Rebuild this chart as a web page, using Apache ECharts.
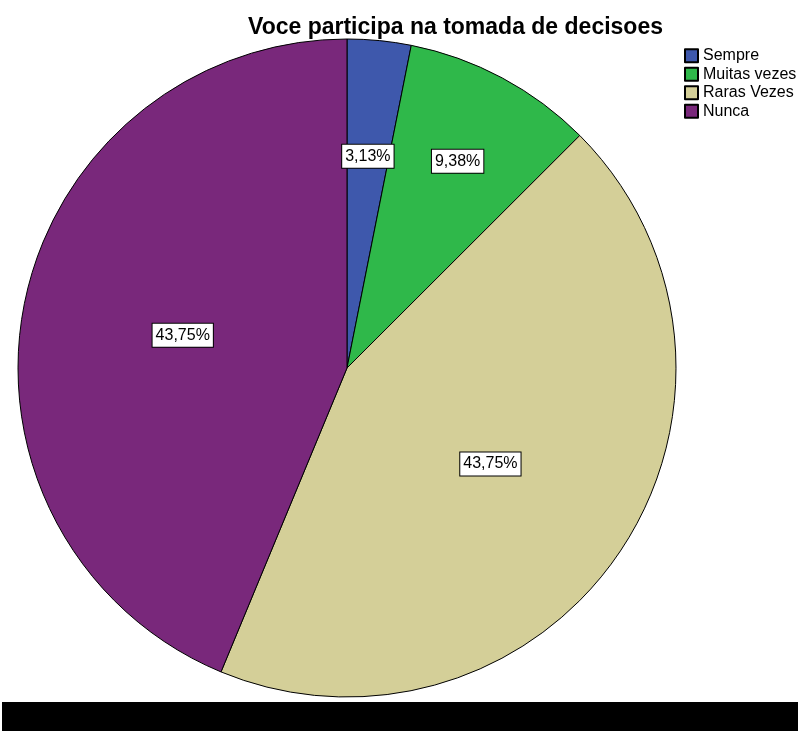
<!DOCTYPE html>
<html>
<head>
<meta charset="utf-8">
<script src="https://cdn.jsdelivr.net/npm/echarts@6/dist/echarts.min.js"></script>
<style>
  html, body { margin: 0; padding: 0; background: #fff; }
  #chart { width: 798px; height: 731px; }
</style>
</head>
<body>
<div id="chart"></div>
<script>
// categorias e percentuais
const categories = ['Sempre', 'Muitas vezes', 'Raras Vezes', 'Nunca']
const percents = [3.13, 9.38, 43.75, 43.75]
const colors = ['#3e58ac', '#2fb84a', '#d4cf98', '#79287b']

const cx = 347
const cy = 368
// SPSS desenha os rótulos das fatias pequenas mais perto da borda
const labelPush = [1.27, 1.4, 1.03, 1.0]

const chart = echarts.init(document.getElementById('chart'))

chart.setOption({
  animation: false,
  title: {
    text: 'Voce participa na tomada de decisoes',
    left: 243,
    top: 11,
    textStyle: {
      fontFamily: 'Liberation Sans',
      fontSize: 23,
      fontWeight: 'bold',
      color: '#000'
    }
  },
  legend: {
    orient: 'vertical',
    left: 679,
    top: 42,
    itemWidth: 13,
    itemHeight: 13,
    itemGap: 1,
    icon: 'rect',
    data: categories,
    textStyle: {
      fontFamily: 'Liberation Sans',
      fontSize: 16,
      lineHeight: 17.5,
      color: '#000'
    }
  },
  graphic: [
    {
      type: 'rect',
      left: 2,
      top: 702,
      shape: { width: 796, height: 29 },
      style: { fill: '#000' }
    }
  ],
  series: [
    {
      type: 'pie',
      center: [cx, cy],
      radius: [0, 329],
      startAngle: 90,
      clockwise: true,
      silent: true,
      itemStyle: {
        borderColor: '#000',
        borderWidth: 1
      },
      label: {
        position: 'inside',
        formatter: p => p.value.toFixed(2).replace('.', ',') + '%',
        fontFamily: 'Liberation Sans',
        fontSize: 16,
        color: '#000',
        backgroundColor: '#fff',
        borderColor: '#000',
        borderWidth: 1,
        padding: [4, 3, 3, 3]
      },
      labelLayout: params => {
        const r = params.labelRect
        const mx = r.x + r.width / 2
        const my = r.y + r.height / 2
        const k = labelPush[params.dataIndex]
        return {
          x: cx + (mx - cx) * k,
          y: cy + (my - cy) * k
        }
      },
      data: categories.map((name, i) => ({
        name: name,
        value: percents[i],
        itemStyle: { color: colors[i] }
      }))
    }
  ]
})
</script>
</body>
</html>
